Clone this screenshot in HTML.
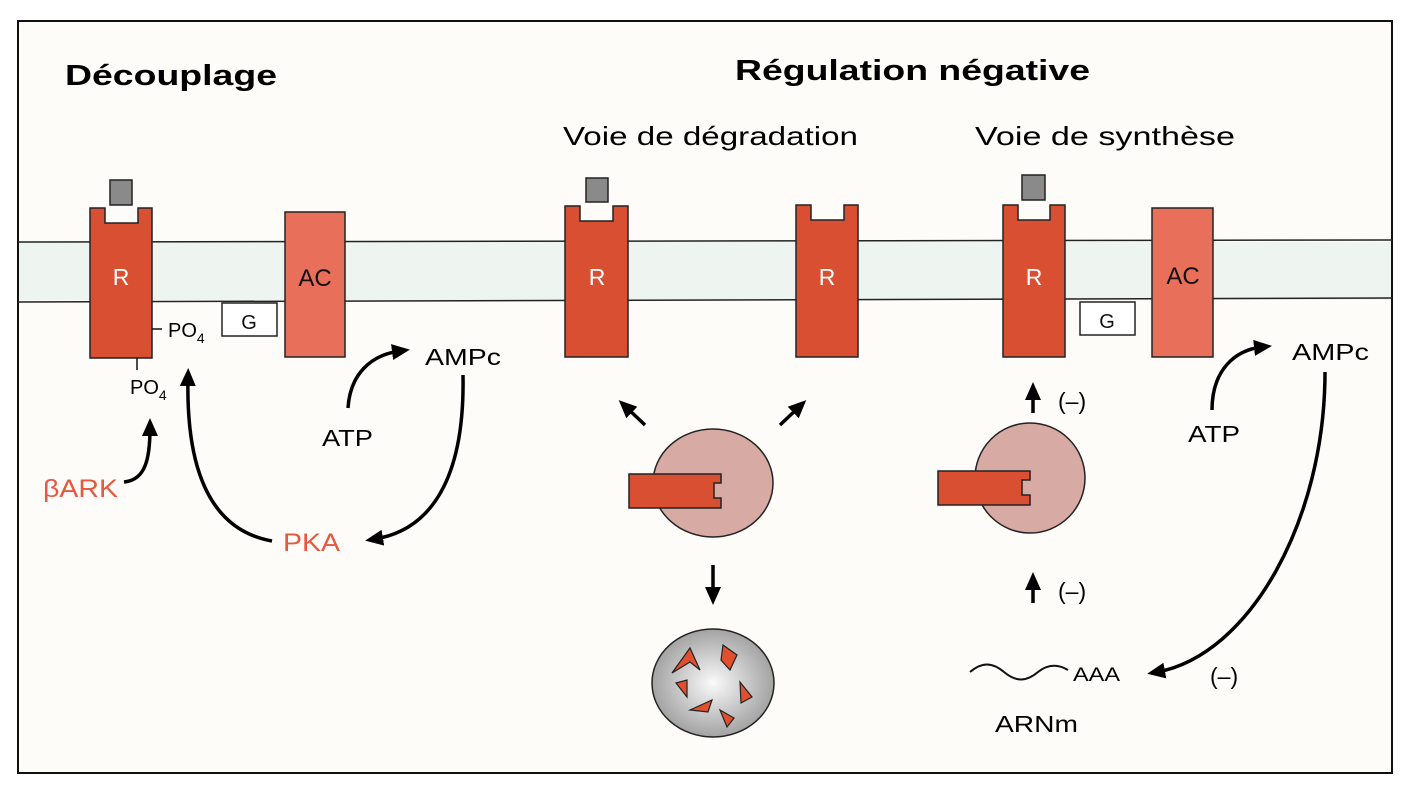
<!DOCTYPE html>
<html><head><meta charset="utf-8"><style>body{margin:0;background:#fff}</style></head>
<body>
<svg width="1413" height="793" viewBox="0 0 1413 793" xmlns="http://www.w3.org/2000/svg" font-family="Liberation Sans, Arial, sans-serif">
<defs>
<marker id="ah" markerWidth="18" markerHeight="16" refX="8" refY="8" orient="auto" markerUnits="userSpaceOnUse" viewBox="0 0 18 16"><path d="M0,0 L18,8 L0,16 Z" fill="#000"/></marker>
<radialGradient id="gr" cx="50%" cy="50%" r="55%"><stop offset="0" stop-color="#fafafa"/><stop offset="1" stop-color="#9a9a9a"/></radialGradient>
</defs>
<rect x="18" y="21" width="1374" height="752" fill="#fdfcf8" stroke="#111" stroke-width="2"/>
<rect x="19" y="242" width="1372" height="58" fill="#eef5f1"/>
<line x1="18" y1="242" x2="1392" y2="240" stroke="#222" stroke-width="1.5"/>
<line x1="18" y1="302" x2="1392" y2="298" stroke="#222" stroke-width="1.5"/>

<text x="65" y="85" font-size="29" font-weight="bold" textLength="212" lengthAdjust="spacingAndGlyphs">Découplage</text>
<text x="735" y="80" font-size="29" font-weight="bold" textLength="355" lengthAdjust="spacingAndGlyphs">Régulation négative</text>
<text x="563" y="145" font-size="26" textLength="295" lengthAdjust="spacingAndGlyphs">Voie de dégradation</text>
<text x="975" y="145" font-size="26" textLength="260" lengthAdjust="spacingAndGlyphs">Voie de synthèse</text>

<g stroke="#222" stroke-width="1.5">
<rect x="110" y="180" width="22" height="25" fill="#8a8a8a"/>
<path d="M90,208 H105 V223 H138 V208 H152 V358 H90 Z" fill="#d94f32"/>
<rect x="285" y="212" width="60" height="145" fill="#e8705a"/>
<rect x="222" y="303" width="55" height="33" fill="#fff"/>
<rect x="586" y="178" width="22" height="24" fill="#8a8a8a"/>
<path d="M565,206 H580 V221 H613 V206 H628 V357 H565 Z" fill="#d94f32"/>
<path d="M796,205 H811 V220 H844 V205 H858 V357 H796 Z" fill="#d94f32"/>
<ellipse cx="713" cy="483" rx="60" ry="54" fill="#d8aaa4"/>
<path d="M629,474 H721 V483 H714 V498 H721 V508 H629 Z" fill="#d94f32"/>
<ellipse cx="713" cy="683" rx="61" ry="54" fill="url(#gr)"/>
<g fill="#e0502f" stroke="#222" stroke-width="1.2">
<path d="M672,673 L690,648 L700,670 L690,662 Z"/><path d="M723,645 L737,655 L730,670 L721,660 Z"/>
<path d="M676,683 L687,680 L687,697 Z"/><path d="M740,682 L752,697 L741,703 Z"/>
<path d="M690,710 L712,700 L708,712 Z"/><path d="M720,710 L734,718 L727,727 Z"/>
</g>
<rect x="1022" y="175" width="23" height="25" fill="#8a8a8a"/>
<path d="M1003,205 H1018 V220 H1050 V205 H1065 V357 H1003 Z" fill="#d94f32"/>
<rect x="1152" y="208" width="61" height="149" fill="#e8705a"/>
<rect x="1080" y="302" width="55" height="33" fill="#fff"/>
<ellipse cx="1030" cy="478" rx="55" ry="55" fill="#d8aaa4"/>
<path d="M938,471 H1030 V480 H1022 V495 H1030 V505 H938 Z" fill="#d94f32"/>
</g>

<g font-size="23" fill="#fff" text-anchor="middle">
<text x="121" y="285">R</text><text x="597" y="285">R</text><text x="827" y="285">R</text><text x="1034" y="285">R</text>
</g>
<g font-size="24" fill="#111" text-anchor="middle">
<text x="315" y="286">AC</text><text x="1183" y="284">AC</text>
</g>
<g font-size="20" fill="#111" text-anchor="middle">
<text x="249" y="329">G</text><text x="1107" y="328">G</text>
</g>

<line x1="152" y1="329" x2="162" y2="329" stroke="#111" stroke-width="1.5"/>
<text x="168" y="337" font-size="20">PO<tspan font-size="14" dy="6">4</tspan></text>
<line x1="137" y1="358" x2="137" y2="370" stroke="#111" stroke-width="1.5"/>
<text x="130" y="394" font-size="20">PO<tspan font-size="14" dy="6">4</tspan></text>
<text x="322" y="446" font-size="23" textLength="51" lengthAdjust="spacingAndGlyphs">ATP</text>
<text x="425" y="365" font-size="23" textLength="76" lengthAdjust="spacingAndGlyphs">AMPc</text>
<text x="283" y="551" font-size="25" fill="#e8583e" textLength="57" lengthAdjust="spacingAndGlyphs">PKA</text>
<text x="43" y="497" font-size="25" fill="#e8583e" textLength="75" lengthAdjust="spacingAndGlyphs">βARK</text>

<g fill="none" stroke="#000" stroke-width="3.5" marker-end="url(#ah)">
<path d="M124,482 C145,480 150,460 150,428"/>
<path d="M272,541 C210,530 186,470 188,378"/>
<path d="M348,408 C350,375 370,355 400,351"/>
<path d="M463,375 C465,480 430,530 375,539"/>
<path d="M645,425 L626,407"/>
<path d="M780,425 L799,407"/>
<path d="M713,565 L713,595"/>
<path d="M1033,413 L1033,392"/>
<path d="M1033,603 L1033,582"/>
<path d="M1212,410 C1212,370 1235,350 1262,347"/>
<path d="M1325,372 C1325,520 1250,655 1157,672"/>
</g>
<path d="M970,672 C982,662 992,662 1004,672 C1016,682 1026,682 1038,672 C1048,664 1058,664 1068,670" fill="none" stroke="#111" stroke-width="2"/>
<text x="1073" y="681" font-size="19" textLength="47" lengthAdjust="spacingAndGlyphs">AAA</text>
<text x="995" y="732" font-size="23" textLength="83" lengthAdjust="spacingAndGlyphs">ARNm</text>
<text x="1188" y="442" font-size="23" textLength="52" lengthAdjust="spacingAndGlyphs">ATP</text>
<text x="1292" y="360" font-size="23" textLength="77" lengthAdjust="spacingAndGlyphs">AMPc</text>
<text x="1058" y="409" font-size="23">(–)</text>
<text x="1058" y="599" font-size="23">(–)</text>
<text x="1210" y="684" font-size="23">(–)</text>
</svg>
</body></html>
